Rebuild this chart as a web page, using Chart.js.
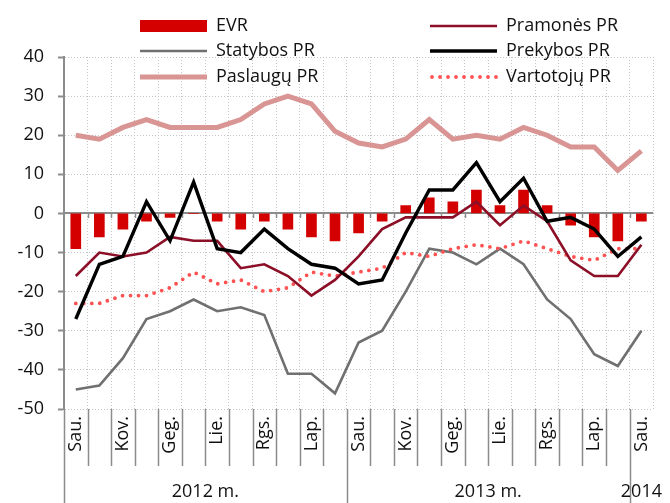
<!DOCTYPE html>
<html>
<head>
<meta charset="utf-8">
<script src="https://cdn.jsdelivr.net/npm/chart.js@4.4.1/dist/chart.umd.min.js"></script>
<style>
  html, body { margin: 0; padding: 0; background: #fff; }
  #wrap { position: relative; width: 670px; height: 503px; }
</style>
</head>
<body>
<div id="wrap"><canvas id="chart" width="670" height="503"></canvas></div>
<script>
// Monthly data, Jan 2012 - Jan 2014
const months = [
  'Sau.', 'Vas.', 'Kov.', 'Bal.', 'Geg.', 'Bir.', 'Lie.', 'Rgp.', 'Rgs.', 'Spa.', 'Lap.', 'Grd.',
  'Sau.', 'Vas.', 'Kov.', 'Bal.', 'Geg.', 'Bir.', 'Lie.', 'Rgp.', 'Rgs.', 'Spa.', 'Lap.', 'Grd.',
  'Sau.'
];
const years = ['2012 m.', '2013 m.', '2014'];
const yearMonths = [12, 12, 1];

const yTicks = [40, 30, 20, 10, 0, -10, -20, -30, -40, -50];

const evr       = [-9, -6, -4, -2, -1, 0, -2, -4, -2, -4, -6, -7, -5, -2, 2, 4, 3, 6, 2, 6, 2, -3, -6, -7, -2];
const pramones  = [-16, -10, -11, -10, -6, -7, -7, -14, -13, -16, -21, -17, -11, -4, -1, -1, -1, 3, -3, 2, -2, -12, -16, -16, -8];
const statybos  = [-45, -44, -37, -27, -25, -22, -25, -24, -26, -41, -41, -46, -33, -30, -20, -9, -10, -13, -9, -13, -22, -27, -36, -39, -30];
const prekybos  = [-27, -13, -11, 3, -7, 8, -9, -10, -4, -9, -13, -14, -18, -17, -5, 6, 6, 13, 3, 9, -2, -1, -4, -11, -6];
const paslaugu  = [20, 19, 22, 24, 22, 22, 22, 24, 28, 30, 28, 21, 18, 17, 19, 24, 19, 20, 19, 22, 20, 17, 17, 11, 16];
const vartotoju = [-23, -23, -21, -21, -19, -15, -18, -17, -20, -19, -15, -16, -15, -14, -10, -11, -9, -8, -9, -7, -9, -11, -12, -9, -9];

const FONT = "'Open Sans', 'Noto Sans', sans-serif";
const TEXT = '#111111';
const AXIS = '#8c8c8c';
const GRID = '#c4c4c4';

// zero line, year groups and the two-column legend
const decor = {
  id: 'decor',
  beforeDatasetsDraw(chart) {
    const { ctx, chartArea: a, scales: { x, y } } = chart;
    const y0 = Math.round(y.getPixelForValue(0));
    ctx.save();
    ctx.strokeStyle = AXIS;
    ctx.lineWidth = 2;
    ctx.beginPath();
    ctx.moveTo(a.left, y0);
    ctx.lineTo(a.right, y0);
    ctx.stroke();
    ctx.lineWidth = 1.5;
    ctx.beginPath();
    for (let i = 0; i < months.length - 1; i++) {
      const bx = Math.round(x.getPixelForValue(i + 0.5)) + 0.5;
      ctx.moveTo(bx, y0);
      ctx.lineTo(bx, y0 + 5);
    }
    ctx.stroke();
    ctx.restore();
  },
  afterDraw(chart) {
    const { ctx, chartArea: a, scales: { x } } = chart;
    const H = chart.height;
    ctx.save();

    // separators below the axis
    const starts = [0];
    yearMonths.forEach(n => starts.push(starts[starts.length - 1] + n));
    ctx.strokeStyle = AXIS;
    ctx.lineWidth = 1.5;
    ctx.beginPath();
    for (let i = 0; i < months.length; i++) {
      const bx = Math.round(x.getPixelForValue(i - 0.5)) + 0.5;
      const full = starts.includes(i);
      ctx.moveTo(bx, a.bottom);
      ctx.lineTo(bx, full ? H : a.bottom + 57);
    }
    ctx.stroke();

    // year labels
    ctx.font = '18px ' + FONT;
    ctx.fillStyle = TEXT;
    ctx.textAlign = 'center';
    ctx.textBaseline = 'middle';
    years.forEach((label, k) => {
      const x1 = x.getPixelForValue(starts[k] - 0.5);
      const x2 = x.getPixelForValue(starts[k + 1] - 0.5);
      const w = ctx.measureText(label).width;
      const cx = Math.min((x1 + x2) / 2, chart.width - w / 2 - 4);
      ctx.fillText(label, cx, H - 11);
    });

    // legend
    const colX = [140, 430];
    const rowY = [26, 51, 77];
    ctx.textAlign = 'left';
    chart.data.datasets.forEach((ds, k) => {
      const lx = colX[k % 2];
      const ly = rowY[Math.floor(k / 2)];
      if (ds.type === 'line') {
        ctx.strokeStyle = ds.borderColor;
        ctx.lineWidth = ds.borderWidth;
        ctx.lineCap = ds.borderCapStyle || 'butt';
        ctx.setLineDash(ds.borderDash || []);
        ctx.beginPath();
        ctx.moveTo(lx + (ds.borderDash ? 2 : 0), ly);
        ctx.lineTo(lx + 67, ly);
        ctx.stroke();
        ctx.setLineDash([]);
      } else {
        ctx.fillStyle = ds.backgroundColor;
        ctx.fillRect(lx, ly - 6, 67, 12);
      }
      ctx.fillStyle = TEXT;
      ctx.fillText(ds.label, lx + 76, ly);
    });
    ctx.restore();
  }
};

new Chart(document.getElementById('chart'), {
  type: 'bar',
  data: {
    labels: months,
    datasets: [
      { type: 'bar', label: 'EVR', data: evr, backgroundColor: '#d40000', barThickness: 10, order: 9 },
      { type: 'line', label: 'Pramonės PR', data: pramones, borderColor: '#8c0f27', borderWidth: 2.6, order: 3 },
      { type: 'line', label: 'Statybos PR', data: statybos, borderColor: '#707070', borderWidth: 2.6, order: 5 },
      { type: 'line', label: 'Prekybos PR', data: prekybos, borderColor: '#000000', borderWidth: 3.4, order: 1 },
      { type: 'line', label: 'Paslaugų PR', data: paslaugu, borderColor: '#d99594', borderWidth: 5, order: 6 },
      { type: 'line', label: 'Vartotojų PR', data: vartotoju, borderColor: '#ff5252', borderWidth: 3.8,
        borderDash: [0, 8], borderCapStyle: 'round', order: 4 }
    ].map(ds => ds.type === 'line'
      ? Object.assign({ pointRadius: 0, tension: 0, fill: false, borderJoinStyle: 'miter' }, ds)
      : ds)
  },
  options: {
    responsive: false,
    animation: false,
    layout: { padding: { top: 57, right: 1, left: 0, bottom: 0 } },
    plugins: {
      legend: { display: false },
      tooltip: { enabled: false }
    },
    scales: {
      x: {
        offset: true,
        afterFit(scale) { scale.height = 94; },
        grid: { display: true, offset: true, drawTicks: false, color: GRID, lineWidth: 1 },
        border: { display: false, dash: [1, 2] },
        ticks: {
          autoSkip: false,
          maxRotation: 90,
          minRotation: 90,
          padding: 7,
          color: TEXT,
          font: { family: FONT, size: 18 },
          callback(value, index) { return index % 2 === 0 ? months[index] : ''; }
        }
      },
      y: {
        min: yTicks[yTicks.length - 1],
        max: yTicks[0],
        afterFit(scale) { scale.width = 64; },
        afterBuildTicks(scale) { scale.ticks = yTicks.map(v => ({ value: v })); },
        grid: { color: GRID, lineWidth: 1, tickLength: 6, tickColor: AXIS, tickWidth: 2, tickBorderDash: [] },
        border: { display: true, color: AXIS, width: 2, dash: [1, 2] },
        ticks: {
          padding: 14,
          color: TEXT,
          font: { family: FONT, size: 18 }
        }
      }
    }
  },
  plugins: [decor]
});
</script>
</body>
</html>
